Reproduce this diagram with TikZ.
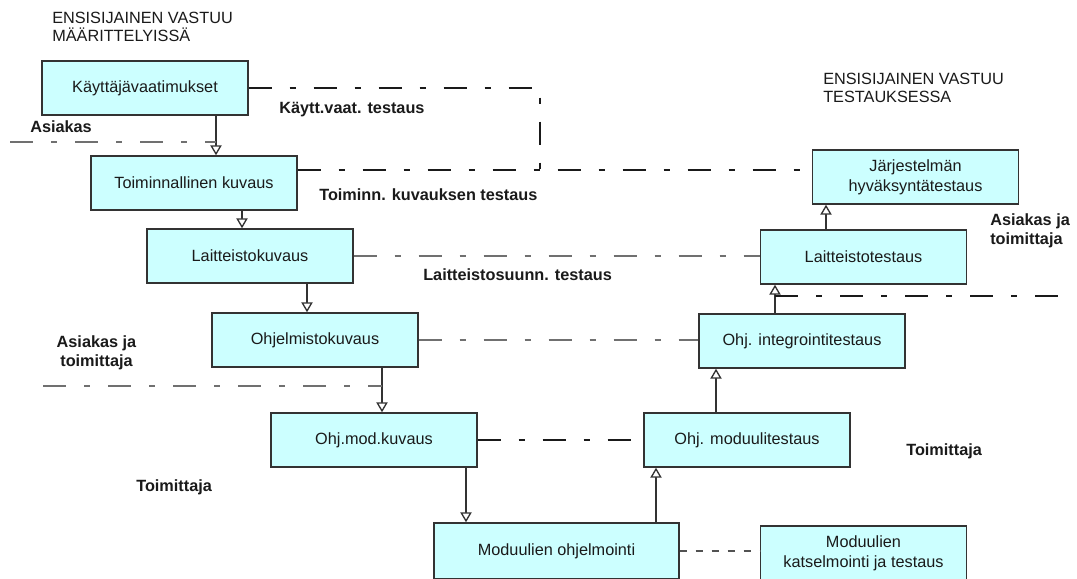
\documentclass[tikz,border=0pt]{standalone}
\usepackage{fontspec}
\setmainfont{Liberation Sans}
\usetikzlibrary{arrows.meta}
\definecolor{boxfill}{HTML}{CCFFFF}
\definecolor{edge}{HTML}{333333}
\definecolor{ink}{HTML}{1A1A1A}
\definecolor{guide}{HTML}{707070}

\begin{document}
\begin{tikzpicture}[x=0.75pt,y=-0.75pt,
  box/.style={draw=edge, line width=1.1pt, fill=boxfill, minimum width=154.5pt,
    minimum height=40.5pt, inner sep=2pt, align=center, text=ink,
    font=\fontsize{12.2}{15}\selectfont},
  flow/.style={draw=edge, line width=1pt,
    -{Triangle[open, length=7.5pt, width=8.5pt, fill=white]}},
  testlink/.style={draw=ink, line width=1pt,
    dash pattern=on 17.25pt off 13.5pt on 4.5pt off 13.5pt},
  greylink/.style={draw=guide, line width=1.7pt,
    dash pattern=on 17.25pt off 13.5pt on 4.5pt off 13.5pt},
  peerlink/.style={draw=edge!85, line width=1.2pt, dash pattern=on 5.25pt off 6.75pt},
  lbl/.style={inner sep=0pt, text=ink, font=\bfseries\fontsize{12.2}{14.5}\selectfont},
  title/.style={inner sep=0pt, text=ink, align=left, font=\fontsize{12.2}{13.5}\selectfont}
]
\useasboundingbox[fill=white] (0,0) rectangle (1077,578);

% column titles
\node[title, anchor=west] (tleft) at (52,27) {ENSISIJAINEN VASTUU\\MÄÄRITTELYISSÄ};
\node[title, anchor=west] (tright) at (823,88) {ENSISIJAINEN VASTUU\\TESTAUKSESSA};

% specification side
\node[box] (kv) at (145,88) {Käyttäjävaatimukset};
\node[box] (tk) at (194,183) {Toiminnallinen kuvaus};
\node[box] (lk) at (250,256) {Laitteistokuvaus};
\node[box] (ok) at (315,340) {Ohjelmistokuvaus};
\node[box] (mk) at (374,440) {Ohj.mod.kuvaus};
\node[box, minimum width=183.75pt, minimum height=42pt] (mo) at (556.5,551) {Moduulien ohjelmointi};

% testing side
\node[box] (mkt) at (863.5,553) {Moduulien\\katselmointi ja testaus};
\node[box] (mt) at (747,440) {Ohj. moduulitestaus};
\node[box] (it) at (802,341) {Ohj. integrointitestaus};
\node[box] (lt) at (863.5,257) {Laitteistotestaus};
\node[box] (jh) at (915.5,177) {Järjestelmän\\hyväksyntätestaus};

% x positions of the flow arrows
\coordinate (x1) at (216,0);
\coordinate (x2) at (242,0);
\coordinate (x3) at (307,0);
\coordinate (x4) at (382,0);
\coordinate (x5) at (466,0);
\coordinate (x6) at (656,0);
\coordinate (x7) at (716,0);
\coordinate (x8) at (775,0);
\coordinate (x9) at (826,0);

\draw[flow] (kv.south -| x1) -- (tk.north -| x1);
\draw[flow] (tk.south -| x2) -- (lk.north -| x2);
\draw[flow] (lk.south -| x3) -- (ok.north -| x3);
\draw[flow] (ok.south -| x4) -- (mk.north -| x4);
\draw[flow] (mk.south -| x5) -- (mo.north -| x5);
\draw[flow] (mo.north -| x6) -- (mt.south -| x6);
\draw[flow] (mt.north -| x7) -- (it.south -| x7);
\draw[flow] (it.north -| x8) -- (lt.south -| x8);
\draw[flow] (lt.north -| x9) -- (jh.south -| x9);

% responsibility boundaries
\coordinate (asiakasL) at (10,142);
\draw[greylink] (asiakasL) -- (asiakasL -| x1);
\coordinate (yhteinenL) at (43,386);
\draw[greylink] (yhteinenL) -- (yhteinenL -| x4);
\coordinate (yhteinenR) at (1059,296);
\draw[testlink] (yhteinenR -| x8) -- (yhteinenR);

% level-to-level test links
\coordinate (kvturn) at (540,170);
\draw[testlink] (kv.east) -| (kvturn);
\draw[testlink] (tk.east |- kvturn) -- (jh.west |- kvturn);
\draw[greylink] (lk.east) -- (lk.east -| lt.west);
\draw[greylink] (ok.east) -- (ok.east -| it.west);
\draw[testlink] (mk.east) -- (mk.east -| mt.west);
\draw[peerlink] (mo.east) -- (mo.east -| mkt.west);

% labels
\node[lbl, anchor=west] (asiakas) at (30,127) {Asiakas};
\node[lbl, anchor=west] (kvtest) at (279,110) {Käytt.vaat. testaus};
\node[lbl, anchor=west] (tktest) at (319,195) {Toiminn. kuvauksen testaus};
\node[lbl, anchor=west] (lstest) at (423,275) {Laitteistosuunn. testaus};
\node[lbl, align=center] (atleft) at (96.5,353) {Asiakas ja\\toimittaja};
\node[lbl, anchor=west] (toimL) at (136,487) {Toimittaja};
\node[lbl, anchor=west, align=left] (atright) at (990,230.5) {Asiakas ja\\toimittaja};
\node[lbl, anchor=west] (toimR) at (906,451) {Toimittaja};
\end{tikzpicture}
\end{document}
